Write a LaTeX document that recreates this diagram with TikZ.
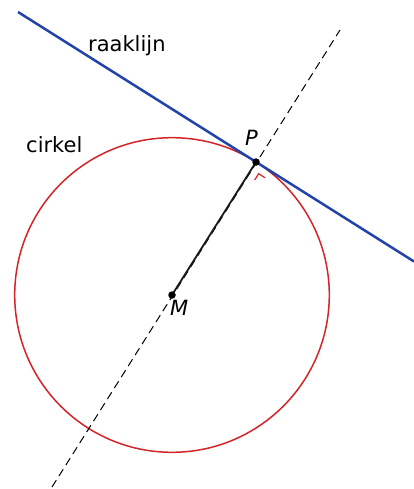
\documentclass[tikz,border=0pt]{standalone}
\usepackage{fontspec}
\setmainfont{DejaVu Sans}
\usetikzlibrary{calc}
\definecolor{tanblue}{RGB}{34,68,170}
\definecolor{circred}{RGB}{212,36,40}
\begin{document}
\begin{tikzpicture}[x=1pt,y=-1pt,
  lbl/.style={font=\fontsize{21}{25}\selectfont, inner sep=0pt, anchor=base west},
  dot/.style={circle, fill=black, inner sep=0pt, minimum size=7.5pt}]
\useasboundingbox (0,0) rectangle (414,489);
\coordinate (M) at (172,295);
\coordinate (P) at (256,162);
\coordinate (D1) at (52,487);
\coordinate (D2) at (340,30);
\coordinate (T1) at (18,12);
\coordinate (T2) at (414,261.5);
% circle
\draw[circred, line width=1.5pt] (M) circle (157.3);
% dashed line
\draw[black, line width=1pt, dash pattern=on 8pt off 5pt] (D1) -- (D2);
% radius
\draw[black!90, line width=1.8pt] (M) -- (P);
% tangent
\draw[tanblue, line width=2.5pt] (T1) -- (T2);
% right angle mark
\coordinate (RA) at ($(P)+(8.5*0.847-8.5*0.535, 8.5*0.532+8.5*0.847)$);
\coordinate (RB) at ($(P)+(8.5*0.847-16*0.535, 8.5*0.532+16*0.847)$);
\coordinate (RC) at ($(P)+(16*0.847-8.5*0.535, 16*0.532+8.5*0.847)$);
\draw[circred, line width=1.2pt] (RB) -- (RA) -- (RC);
% points
\node[dot] (Mdot) at (M) {};
\node[dot] (Pdot) at (P) {};
% labels
\node[lbl] (lraak) at (88,52) {raaklijn};
\node[lbl] (lcirk) at (26,153) {cirkel};
\node[lbl] (lP) at (245,146) {\itshape P};
\node[lbl] (lM) at (170,315) {\itshape M};
\end{tikzpicture}
\end{document}
